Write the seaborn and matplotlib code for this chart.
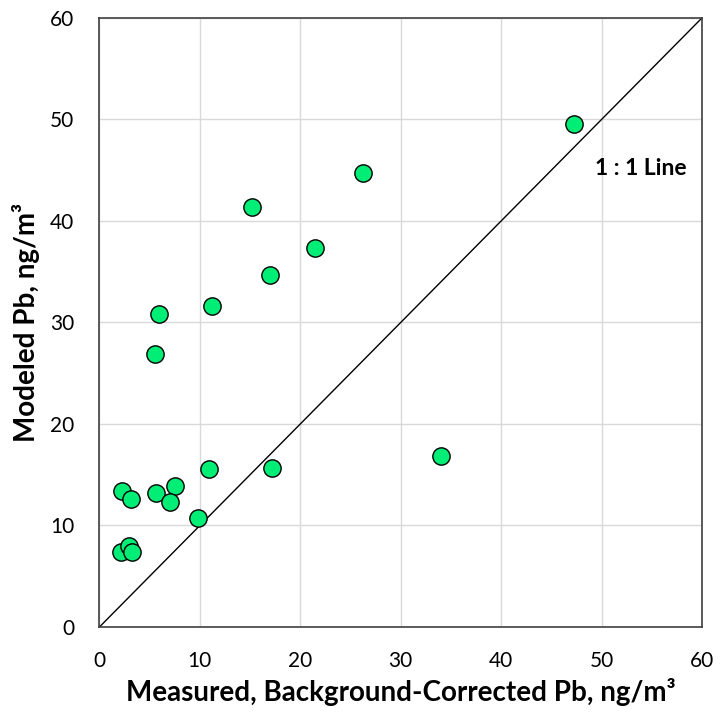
import matplotlib
matplotlib.use("Agg")
import matplotlib.pyplot as plt
import seaborn as sns
import pandas as pd

# Measured (background-corrected) vs modeled Pb concentrations, ng/m3
measured = [2.2, 3.1, 5.6, 7.5, 7.0, 10.9, 17.2, 9.8, 2.1, 2.9, 3.2,
            26.2, 15.2, 21.5, 17.0, 11.2, 5.9, 5.5, 47.3, 34.0]
modeled = [13.4, 12.6, 13.2, 13.9, 12.3, 15.6, 15.7, 10.7, 7.4, 8.0, 7.4,
           44.7, 41.4, 37.3, 34.7, 31.6, 30.8, 26.9, 49.6, 16.8]
ticks = [0, 10, 20, 30, 40, 50, 60]
one_to_one = [0, 60]

df = pd.DataFrame({"measured": measured, "modeled": modeled})

sns.set_style("white")
plt.rcParams["font.family"] = ["Lato", "DejaVu Sans"]
plt.rcParams["text.color"] = "black"
plt.rcParams["axes.labelcolor"] = "black"

fig = plt.figure(figsize=(7.25, 7.19), dpi=100)
ax = fig.add_axes([0.1372, 0.128, 0.831, 0.847])

ax.set_xlim(0, 60)
ax.set_ylim(0, 60)
ax.set_xticks(ticks)
ax.set_yticks(ticks)
ax.grid(True, color="#D9D9D9", linewidth=1.0)
ax.set_axisbelow(True)

ax.plot(one_to_one, one_to_one, color="black", linewidth=1.0, zorder=2)

sns.scatterplot(data=df, x="measured", y="modeled", ax=ax, s=155,
                color="#00EE76", edgecolor="black", linewidth=1.0,
                zorder=3, clip_on=False)

ax.text(49.35, 45.2, "1 : 1 Line", fontsize=16.5, fontweight="bold",
        color="black", va="center", ha="left", clip_on=False)

for s in ax.spines.values():
    s.set_color("#404040")
    s.set_linewidth(1.2)

ax.tick_params(axis="x", length=0, labelsize=15, pad=17, labelcolor="black")
ax.tick_params(axis="y", length=0, labelsize=15, pad=18, labelcolor="black")
ax.set_xlabel("Measured, Background-Corrected Pb, ng/m³", fontsize=20,
              fontweight="bold", color="black", labelpad=5)
ax.set_ylabel("Modeled Pb, ng/m³", fontsize=20, fontweight="bold",
              color="black", labelpad=7)

fig.savefig("out.png", dpi=100)
